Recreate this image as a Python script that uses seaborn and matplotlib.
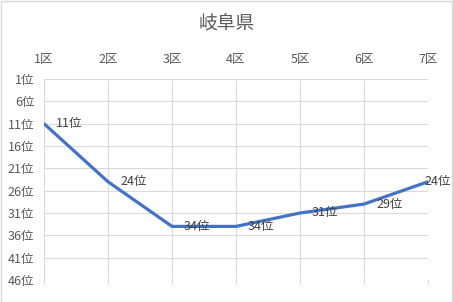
import matplotlib
matplotlib.use("Agg")
import matplotlib.pyplot as plt
import seaborn as sns
import pandas as pd
from matplotlib.patches import Rectangle

districts = ["1区", "2区", "3区", "4区", "5区", "6区", "7区"]
ranks = [11, 24, 34, 34, 31, 29, 24]
ytick_vals = [1, 6, 11, 16, 21, 26, 31, 36, 41, 46]
title = "岐阜県"

sns.set_theme(style="white")
plt.rcParams['font.family'] = ['Noto Sans CJK JP', 'DejaVu Sans']

df = pd.DataFrame({"pos": range(1, len(districts) + 1), "rank": ranks})

fig = plt.figure(figsize=(4.53, 3.02), dpi=100)
ax = fig.add_axes([44 / 453, 1 - 280 / 302, (428 - 44) / 453, (280 - 79) / 302])

sns.lineplot(data=df, x="pos", y="rank", ax=ax, color="#4472C4", linewidth=2.3,
             solid_joinstyle="round", solid_capstyle="round", zorder=3)

ax.set_xlim(1, len(districts))
ax.set_ylim(46, 1)
ax.set_xticks(df["pos"])
ax.set_xticklabels(districts)
ax.set_yticks(ytick_vals)
ax.set_yticklabels([f"{v}位" for v in ytick_vals])
ax.xaxis.tick_top()
ax.tick_params(axis="x", which="both", top=False, bottom=False, labeltop=True,
               labelbottom=False, length=0, pad=9.5, labelsize=9, labelcolor="#595959")
ax.tick_params(axis="y", left=False, length=0, pad=7, labelsize=9, labelcolor="#595959")
ax.set_xlabel("")
ax.set_ylabel("")
for s in ax.spines.values():
    s.set_visible(False)
ax.grid(True, color="#d9d9d9", linewidth=0.8)
ax.set_axisbelow(True)

# small tick marks below the bottom
for p in df["pos"]:
    ax.plot([p, p], [46, 46.9], color="#d9d9d9", linewidth=0.8, clip_on=False)

n = len(districts)
for p, r in zip(df["pos"], ranks):
    dx = 12 if p < n else -4
    ax.annotate(f"{r}位", (p, r), xytext=(dx, 0), textcoords="offset pixels",
                ha="left", va="center", fontsize=9, color="#404040", zorder=4)

fig.text(0.5, 1 - 24 / 302, title, ha="center", va="center", fontsize=13.5, color="#595959")
fig.patches.append(Rectangle((0.5 / 453, 0.5 / 302), 1 - 1.5 / 453, 1 - 1.5 / 302,
                             transform=fig.transFigure, fill=False,
                             edgecolor="#d9d9d9", linewidth=1))

fig.savefig("out.png", dpi=100)
